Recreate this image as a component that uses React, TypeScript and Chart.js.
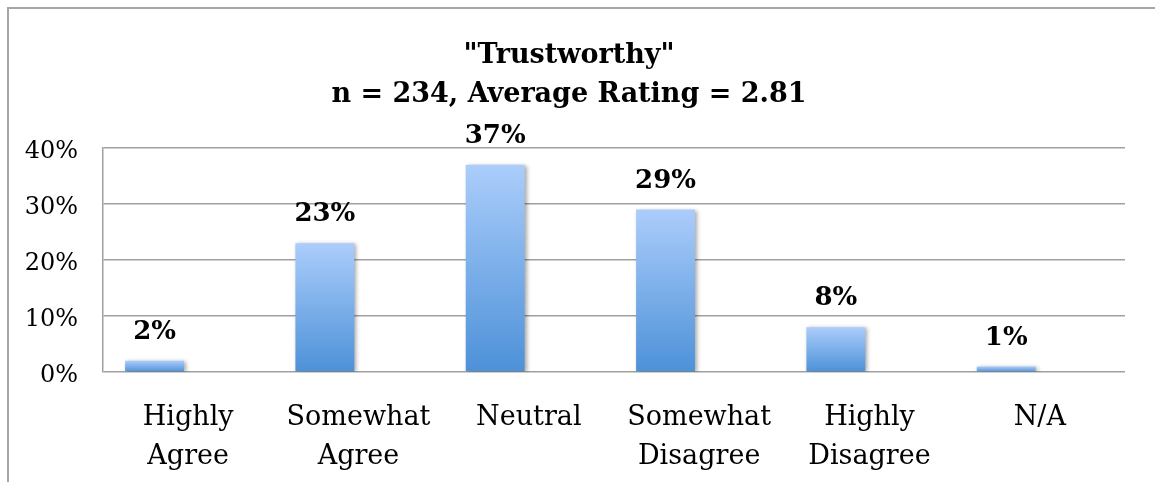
import React, { useEffect, useRef } from "react";
import { Chart, registerables } from "chart.js";

Chart.register(...registerables);

const categories: (string | string[])[] = [
  ["Highly", "Agree"],
  ["Somewhat", "Agree"],
  "Neutral",
  ["Somewhat", "Disagree"],
  ["Highly", "Disagree"],
  "N/A",
];
const values = [2, 23, 37, 29, 8, 1];
const emptySeries = [null, null, null, null, null, null];
const titleLines = ['"Trustworthy"', "n = 234, Average Rating = 2.81"];
const yMin = 0;
const yMax = 40;
const yStep = 10;

const SERIF = "'DejaVu Serif', serif";

const framePlugin = {
  id: "frame",
  beforeDraw(chart: any) {
    const c = chart.ctx;
    c.save();
    c.strokeStyle = "#a6a6a6";
    c.lineWidth = 2;
    c.beginPath();
    c.moveTo(8, chart.height);
    c.lineTo(8, 8);
    c.lineTo(chart.width, 8);
    c.stroke();
    c.restore();
  },
};

const shadowAndLabels = {
  id: "shadowAndLabels",
  beforeDatasetsDraw(chart: any) {
    const c = chart.ctx;
    c.save();
    c.shadowColor = "rgba(0,0,0,0.35)";
    c.shadowBlur = 4;
    c.shadowOffsetX = 2;
    c.shadowOffsetY = 1;
  },
  afterDatasetsDraw(chart: any) {
    const c = chart.ctx;
    c.restore();
    const meta = chart.getDatasetMeta(0);
    c.save();
    c.font = "bold 26px " + SERIF;
    c.fillStyle = "#000";
    c.textAlign = "center";
    c.textBaseline = "middle";
    meta.data.forEach((bar: any, i: number) => {
      c.fillText(values[i] + "%", bar.x, bar.y - 28.5);
    });
    c.restore();
  },
};

export default function App() {
  const ref = useRef<HTMLCanvasElement>(null);
  useEffect(() => {
    document.body.style.margin = "0";
    const chart = new Chart(ref.current!, {
      type: "bar",
      data: {
        labels: categories as any,
        datasets: [
          {
            data: values,
            backgroundColor: (ctx: any) => {
              const ch = ctx.chart;
              const y = ch.scales && ch.scales.y;
              if (!y || ctx.type !== "data") return "#7aaee8";
              const top = y.getPixelForValue(ctx.raw);
              const base = y.getPixelForValue(0);
              if (!isFinite(top) || !isFinite(base) || top === base) return "#7aaee8";
              const g = ch.ctx.createLinearGradient(0, top, 0, base);
              g.addColorStop(0, "#abcdfb");
              g.addColorStop(1, "#4d91d8");
              return g;
            },
            borderWidth: 0,
            categoryPercentage: 0.79,
            barPercentage: 0.875,
          },
          {
            data: emptySeries as any,
            backgroundColor: "rgba(0,0,0,0)",
            categoryPercentage: 0.79,
            barPercentage: 0.875,
          },
        ],
      },
      options: {
        responsive: false,
        animation: false,
        layout: { padding: { left: 13, right: 30, top: 0, bottom: 0 } },
        plugins: {
          legend: { display: false },
          tooltip: { enabled: false },
          title: {
            display: true,
            text: titleLines,
            color: "#000",
            font: { family: SERIF, size: 27, weight: "bold", lineHeight: 39 / 27 },
            padding: { top: 36, bottom: 34 },
          },
        },
        scales: {
          x: {
            grid: { display: false },
            border: { display: false },
            ticks: {
              color: "#000",
              font: { family: SERIF, size: 27, lineHeight: 39 / 27 },
              padding: 18,
              maxRotation: 0,
              autoSkip: false,
            },
            afterFit(scale: any) {
              scale.height = 110;
            },
          },
          y: {
            min: yMin,
            max: yMax,
            grid: { color: "#a0a0a0", lineWidth: 1.5, drawTicks: false },
            border: { display: true, color: "#a0a0a0", width: 1.5 },
            ticks: {
              stepSize: yStep,
              color: "#000",
              font: { family: SERIF, size: 24 },
              padding: 25,
              labelOffset: 4,
              callback: (v: any) => v + "%",
            },
            afterFit(scale: any) {
              scale.width = 90;
            },
          },
        },
      },
      plugins: [framePlugin, shadowAndLabels],
    });
    return () => chart.destroy();
  }, []);
  return (
    <div style={{ width: 1155, height: 482, background: "#fff" }}>
      <canvas ref={ref} width={1155} height={482} />
    </div>
  );
}
